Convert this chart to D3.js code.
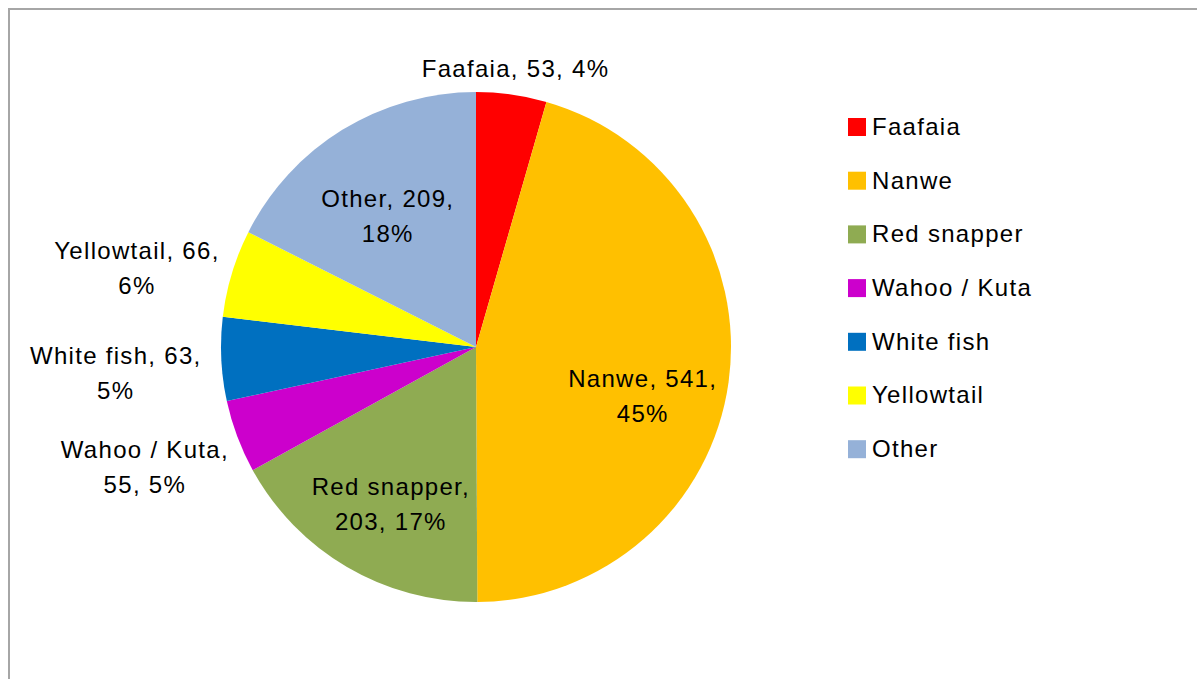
<!DOCTYPE html>
<html>
<head>
<meta charset="utf-8">
<script src="https://cdn.jsdelivr.net/npm/d3@7"></script>
<style>
  html, body { margin: 0; padding: 0; background: #fff; }
  svg { display: block; }
  text { font-family: "Liberation Sans", Arial, sans-serif; font-size: 24px; letter-spacing: 1.3px; fill: #000; }
</style>
</head>
<body>
<svg id="chart" width="1197" height="679"></svg>
<script>
// fish catch by species
const species = ["Faafaia", "Nanwe", "Red snapper", "Wahoo / Kuta", "White fish", "Yellowtail", "Other"];
const counts = [53, 541, 203, 55, 63, 66, 209];
const colors = ["#ff0000", "#ffc000", "#8fab52", "#cc00cc", "#0070c0", "#ffff00", "#95b1d8"];

const svg = d3.select("#chart");
const W = +svg.attr("width"), H = +svg.attr("height");

// chart area frame (right and bottom edges fall outside the picture)
svg.append("rect")
    .attr("x", 9).attr("y", 9)
    .attr("width", W + 20).attr("height", H + 20)
    .attr("fill", "none")
    .attr("stroke", "#a6a6a6")
    .attr("stroke-width", 2);

const cx = 476, cy = 347, R = 255;
const total = d3.sum(counts);

const pie = d3.pie().sort(null).value(d => d.value);
const arcs = pie(species.map((s, i) => ({ name: s, value: counts[i], color: colors[i] })));
const arc = d3.arc().innerRadius(0).outerRadius(R);

const g = svg.append("g").attr("transform", `translate(${cx}, ${cy})`);

g.selectAll("path.slice")
    .data(arcs)
    .enter().append("path")
    .attr("class", "slice")
    .attr("d", arc)
    .attr("fill", d => d.data.color);

// data labels: inside for big slices, outside otherwise
const lineH = 35;
const measure = svg.append("text").attr("visibility", "hidden");
function textWidth(s) {
    measure.text(s);
    return measure.node().getComputedTextLength();
}
function wrap(str, maxW) {
    const words = str.split(" ");
    const lines = [];
    let cur = "";
    words.forEach(w => {
        const next = cur ? cur + " " + w : w;
        if (cur && textWidth(next) > maxW) { lines.push(cur); cur = w; }
        else cur = next;
    });
    if (cur) lines.push(cur);
    return lines;
}

const labels = g.selectAll("g.label")
    .data(arcs)
    .enter().append("g")
    .attr("class", "label");

labels.each(function (d) {
    const pct = Math.round(d.data.value / total * 100);
    const inside = (d.endAngle - d.startAngle) > 0.8;
    const lines = wrap(`${d.data.name}, ${d.data.value}, ${pct}%`, inside ? 180 : 200);
    const a = (d.startAngle + d.endAngle) / 2;
    const sin = Math.sin(a), cos = Math.cos(a);
    const w = d3.max(lines, textWidth);
    const h = lines.length * lineH;
    let x, y;
    if (inside) {
        const r = R * 0.66;
        x = r * sin; y = -r * cos + 12 + 14 * Math.max(0, sin);
    } else {
        const r = R + 20;
        x = r * sin + sin * Math.abs(sin) * w / 2 - 5 * Math.max(0, sin);
        y = -r * cos - cos * h / 2 + 11;
    }
    const t = d3.select(this).append("text")
        .attr("text-anchor", "middle");
    lines.forEach((ln, i) => {
        t.append("tspan")
            .attr("x", x)
            .attr("y", y + (i - (lines.length - 1) / 2) * lineH)
            .attr("dy", "0.35em")
            .text(ln);
    });
});
measure.remove();

// legend
const legendX = 848, legendY = 118, legendStep = 53.7, box = 18;
const legend = svg.append("g").attr("class", "legend");
const item = legend.selectAll("g")
    .data(species)
    .enter().append("g")
    .attr("transform", (d, i) => `translate(${legendX}, ${legendY + i * legendStep})`);

item.append("rect")
    .attr("width", box).attr("height", box)
    .attr("fill", (d, i) => colors[i]);

item.append("text")
    .attr("x", box + 6)
    .attr("y", box)
    .attr("dy", "-0.05em")
    .text(d => d);
</script>
</body>
</html>
